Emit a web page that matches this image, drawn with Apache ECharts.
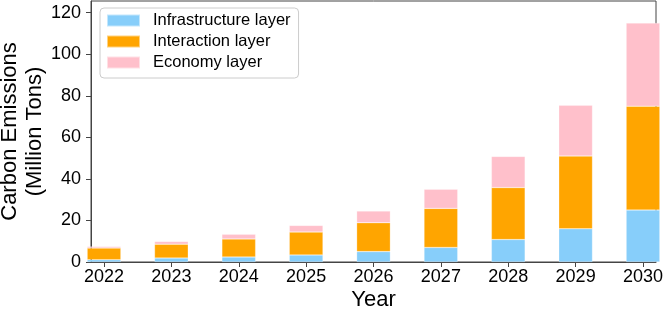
<!DOCTYPE html>
<html>
<head>
<meta charset="utf-8">
<script src="https://cdn.jsdelivr.net/npm/echarts@6/dist/echarts.min.js"></script>
<style>html,body{margin:0;padding:0;background:#fff;}#c{width:664px;height:315px;}</style>
</head>
<body>
<div id="c"></div>
<script>
const years = [2022, 2023, 2024, 2025, 2026, 2027, 2028, 2029, 2030];
const infrastructure = [1.1, 1.9, 2.4, 3.4, 5.0, 7.0, 10.8, 16.0, 25.0];
const interaction = [5.6, 6.7, 8.7, 11.0, 13.9, 18.8, 25.0, 35.0, 50.0];
const economy = [0.8, 1.3, 2.2, 3.2, 5.6, 9.2, 15.0, 24.4, 40.0];
const yTicks = [0, 20, 40, 60, 80, 100, 120];
const seriesNames = ['Infrastructure layer', 'Interaction layer', 'Economy layer'];
const colors = ['#87CEFA', '#FFA500', '#FFC0CB'];

const FONT = 'Liberation Sans, Arial, Helvetica, sans-serif';
const chart = echarts.init(document.getElementById('c'), null, {renderer: 'canvas'});

// value first so that the stacked dimension is the y value
function pairs(vals) { return years.map((y, i) => [vals[i], y]); }

const data = [infrastructure, interaction, economy];

chart.setOption({
  animation: false,
  backgroundColor: '#fff',
  grid: {left: 91, right: 8, top: 1, bottom: 53, outerBoundsMode: 'none', containLabel: false,
         show: true, borderColor: '#444', borderWidth: 1, backgroundColor: 'transparent'},
  legend: {
    orient: 'vertical', left: 100, top: 8,
    data: seriesNames,
    icon: 'rect', itemWidth: 33, itemHeight: 12, itemGap: 0,
    padding: [2, 8, 5, 6],
    borderColor: '#ccc', borderWidth: 1, borderRadius: 4,
    backgroundColor: 'rgba(255,255,255,0.8)',
    textStyle: {fontFamily: FONT, fontSize: 16.5, color: '#000', lineHeight: 21, padding: [0, 0, 0, 8]}
  },
  xAxis: {
    type: 'value', min: 2021.807, max: 2030.193,
    name: 'Year', nameLocation: 'middle', nameGap: 27, nameMoveOverlap: false,
    nameTextStyle: {fontFamily: FONT, fontSize: 22, color: '#000'},
    axisLine: {show: true, lineStyle: {color: '#444', width: 1}},
    axisTick: {show: true, length: 5, lineStyle: {color: '#444'}, customValues: years},
    axisLabel: {customValues: years, fontFamily: FONT, fontSize: 18, color: '#000', margin: 6, formatter: v => String(v)},
    splitLine: {show: false}
  },
  yAxis: {
    type: 'value', min: 0, max: 125.6,
    name: 'Carbon Emissions\n(Million Tons)', nameLocation: 'middle', nameGap: 43, nameMoveOverlap: false,
    nameTextStyle: {fontFamily: FONT, fontSize: 22, color: '#000', lineHeight: 25.5},
    axisLine: {show: true, lineStyle: {color: '#444', width: 1}},
    axisTick: {show: true, length: 5, lineStyle: {color: '#444'}, customValues: yTicks},
    axisLabel: {customValues: yTicks, fontFamily: FONT, fontSize: 18, color: '#000', margin: 10},
    splitLine: {show: false}
  },
  series: seriesNames.map((n, i) => ({
    name: n, type: 'bar', stack: 'total', barWidth: 33.7,
    encode: {x: 1, y: 0},
    itemStyle: {color: colors[i], borderColor: 'rgba(255,255,255,0.5)', borderWidth: 0.5},
    data: pairs(data[i])
  }))
});
</script>
</body>
</html>
